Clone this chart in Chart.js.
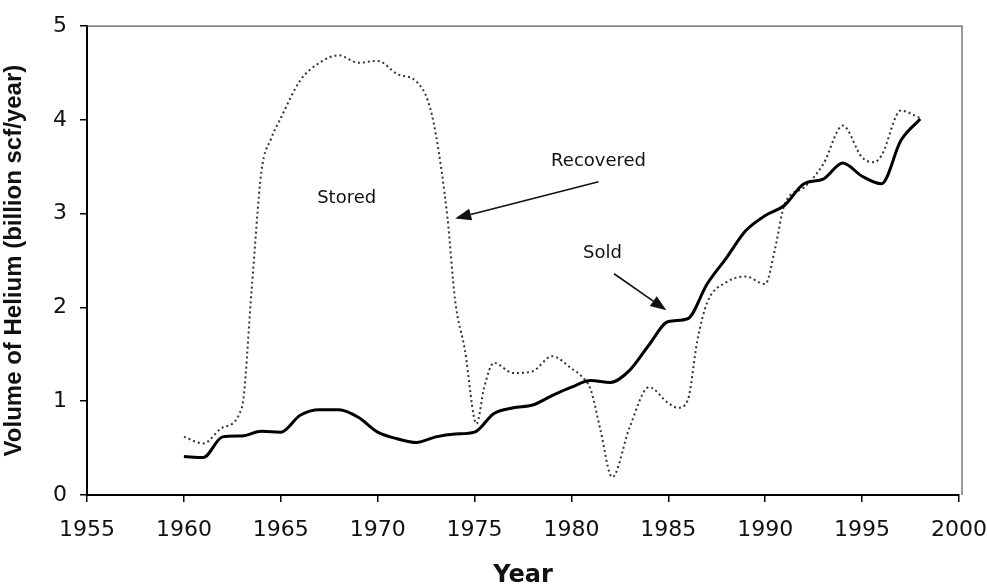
<!DOCTYPE html>
<html>
<head>
<meta charset="utf-8">
<script src="https://cdn.jsdelivr.net/npm/chart.js@4"></script>
<style>
  html, body { margin: 0; padding: 0; background: #fff; }
  #wrap { width: 987px; height: 586px; }
</style>
</head>
<body>
<div id="wrap"><canvas id="graph"></canvas></div>
<script>
const soldYears = [1960,1961,1962,1963,1964,1965,1966,1967,1968,1969,1970,1971,1972,1973,1974,1975,1976,1977,1978,1979,1980,1981,1982,1983,1984,1985,1986,1987,1988,1989,1990,1991,1992,1993,1994,1995,1996,1997,1998];
const soldValues = [0.41,0.40,0.62,0.63,0.68,0.67,0.85,0.91,0.91,0.83,0.67,0.60,0.56,0.62,0.65,0.67,0.87,0.93,0.96,1.06,1.15,1.22,1.20,1.33,1.60,1.85,1.88,2.25,2.53,2.82,2.98,3.09,3.32,3.37,3.54,3.40,3.32,3.78,4.01];

const recYears = [1960,1961,1962,1963,1963.5,1964,1964.5,1965,1966,1967,1968,1969,1970,1971,1972,1972.6,1973,1973.6,1974,1974.5,1975.1,1975.5,1976,1977,1978,1979,1980,1980.5,1981,1981.5,1982.1,1983,1984,1985,1985.5,1986,1986.5,1987,1988,1989,1990,1990.5,1991,1992,1993,1994,1995,1995.6,1996,1997,1998];
const recValues = [0.62,0.55,0.72,0.94,2.2,3.45,3.80,4.02,4.42,4.61,4.69,4.61,4.63,4.49,4.41,4.20,3.85,2.96,2.07,1.55,0.76,1.15,1.41,1.30,1.32,1.48,1.35,1.27,1.12,0.69,0.19,0.72,1.15,0.98,0.93,1.01,1.65,2.05,2.27,2.33,2.25,2.62,3.10,3.28,3.53,3.94,3.60,3.55,3.62,4.10,4.02];

const xTicks = [1955,1960,1965,1970,1975,1980,1985,1990,1995,2000];
const yTicks = [0,1,2,3,4,5];

// labels and arrows, in data units
const notes = [
  { text: 'Stored', x: 1968.4, y: 3.16 },
  { text: 'Recovered', x: 1981.4, y: 3.56 },
  { text: 'Sold', x: 1981.6, y: 2.58 }
];
const arrows = [
  { from: [1981.4, 3.34], to: [1974.0, 2.95] },
  { from: [1982.2, 2.36], to: [1984.9, 1.97] }
];

const toPoints = (xs, ys) => xs.map((x, i) => ({ x: x, y: ys[i] }));

const extras = {
  id: 'extras',
  afterDraw(chart) {
    const ctx = chart.ctx;
    const a = chart.chartArea;
    const sx = chart.scales.x, sy = chart.scales.y;
    ctx.save();
    // frame top and right
    ctx.strokeStyle = '#555';
    ctx.lineWidth = 1.2;
    ctx.beginPath();
    ctx.moveTo(a.left, a.top);
    ctx.lineTo(a.right + 3, a.top);
    ctx.lineTo(a.right + 3, a.bottom);
    ctx.stroke();

    ctx.fillStyle = '#111';
    ctx.font = '18px "DejaVu Sans"';
    ctx.textAlign = 'center';
    ctx.textBaseline = 'middle';
    notes.forEach(n => ctx.fillText(n.text, sx.getPixelForValue(n.x), sy.getPixelForValue(n.y)));

    ctx.strokeStyle = '#111';
    ctx.lineWidth = 1.6;
    arrows.forEach(ar => {
      const x1 = sx.getPixelForValue(ar.from[0]), y1 = sy.getPixelForValue(ar.from[1]);
      const x2 = sx.getPixelForValue(ar.to[0]), y2 = sy.getPixelForValue(ar.to[1]);
      const ang = Math.atan2(y2 - y1, x2 - x1);
      const len = 16, wid = 6;
      const bx = x2 - len * Math.cos(ang), by = y2 - len * Math.sin(ang);
      ctx.beginPath();
      ctx.moveTo(x1, y1);
      ctx.lineTo(bx, by);
      ctx.stroke();
      ctx.beginPath();
      ctx.moveTo(x2, y2);
      ctx.lineTo(bx + wid * Math.sin(ang), by - wid * Math.cos(ang));
      ctx.lineTo(bx - wid * Math.sin(ang), by + wid * Math.cos(ang));
      ctx.closePath();
      ctx.fill();
    });
    ctx.restore();
  }
};

const graph = document.getElementById('graph').getContext('2d');

new Chart(graph, {
  type: 'line',
  data: {
    datasets: [{
      label: 'Sold',
      data: toPoints(soldYears, soldValues),
      borderColor: '#000',
      borderWidth: 3,
      pointRadius: 0,
      cubicInterpolationMode: 'monotone',
      fill: false
    },
    {
      label: 'Recovered',
      data: toPoints(recYears, recValues),
      borderColor: '#333',
      borderWidth: 2,
      borderDash: [2, 3],
      pointRadius: 0,
      cubicInterpolationMode: 'monotone',
      fill: false
    }]
  },
  options: {
    responsive: true,
    maintainAspectRatio: false,
    animation: false,
    layout: { padding: { top: 24, right: 28, left: 0, bottom: 0 } },
    plugins: { legend: { display: false }, tooltip: { enabled: false } },
    scales: {
      x: {
        type: 'linear',
        min: 1955,
        max: 2000,
        afterBuildTicks: s => { s.ticks = xTicks.map(v => ({ value: v })); },
        afterFit: s => { s.height = 91; s.paddingLeft = 0; s.paddingRight = 0; },
        grid: { drawOnChartArea: false, drawTicks: true, tickLength: 7, color: '#000', lineWidth: 1.5 },
        border: { display: true, color: '#000', width: 2 },
        ticks: { color: '#111', padding: 15, font: { family: 'DejaVu Sans', size: 22 }, callback: v => String(v) },
        title: { display: true, text: 'Year', color: '#111', padding: { top: 0, bottom: -4 }, font: { family: 'DejaVu Sans', size: 24, weight: 'bold' } }
      },
      y: {
        min: 0,
        max: 5,
        afterBuildTicks: s => { s.ticks = yTicks.map(v => ({ value: v })); },
        afterFit: s => { s.width = 87; },
        grid: { drawOnChartArea: false, drawTicks: true, tickLength: 7, color: '#000', lineWidth: 1.5 },
        border: { display: true, color: '#000', width: 2 },
        ticks: { color: '#111', padding: 13, font: { family: 'DejaVu Sans', size: 22 } },
        title: { display: true, text: 'Volume of Helium (billion scf/year)', color: '#111', padding: { top: 0, bottom: 0 }, font: { family: 'Liberation Sans', size: 24, weight: 'bold' } }
      }
    }
  },
  plugins: [extras]
});
</script>
</body>
</html>
